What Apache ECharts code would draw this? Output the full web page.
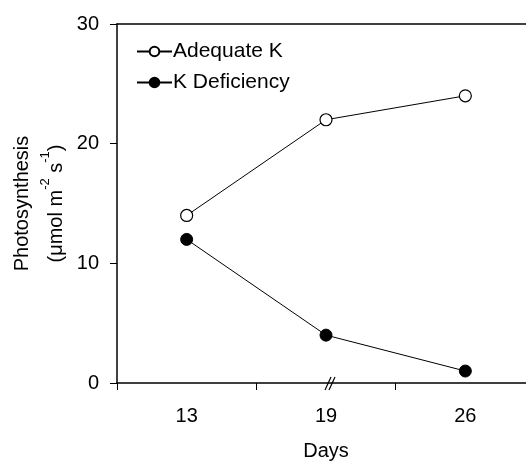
<!DOCTYPE html>
<html>
<head>
<meta charset="utf-8">
<script src="https://cdn.jsdelivr.net/npm/echarts@6/dist/echarts.min.js"></script>
<style>
html,body{margin:0;padding:0;background:#fff;}
#chart{width:526px;height:461px;}
</style>
</head>
<body>
<div id="chart"></div>
<script>
var days = ['13', '19', '26'];
var adequateK = [14, 22, 24];
var kDeficiency = [12, 4, 1];
var yTicks = [0, 10, 20, 30];
var breakAt = '19';
var yTitle = 'Photosynthesis\n(μmol m{sup|-2} s{sup|-1})';

var FONT = 'Liberation Sans, Arial, sans-serif';
var chart = echarts.init(document.getElementById('chart'), null, {renderer: 'canvas'});

var option = {
  animation: false,
  backgroundColor: '#fff',
  textStyle: {fontFamily: FONT, color: '#000'},
  grid: {left: 117, top: 24, right: -9, bottom: 78, containLabel: false, outerBoundsMode: 'none'},
  legend: {
    orient: 'vertical', left: 131, top: 36,
    itemWidth: 35, itemHeight: 12, itemGap: 10,
    textStyle: {fontFamily: FONT, fontSize: 21, color: '#000', padding: [0,0,0,-4]},
    data: ['Adequate K', 'K Deficiency']
  },
  xAxis: [{
    type: 'category', data: days, boundaryGap: true,
    name: 'Days', nameLocation: 'middle', nameGap: 58,
    nameTextStyle: {fontFamily: FONT, fontSize: 20, color: '#000'},
    axisLine: {show: true, lineStyle: {color: '#000', width: 1.5}},
    axisTick: {show: true, alignWithLabel: false, length: 7, inside: false, lineStyle: {color: '#000', width: 1}},
    axisLabel: {fontFamily: FONT, fontSize: 20, color: '#000', margin: 23},
    splitLine: {show: false}
  }, {
    type: 'category', data: days, position: 'top',
    axisLine: {show: true, lineStyle: {color: '#000', width: 1.5}},
    axisTick: {show: false}, axisLabel: {show: false}, splitLine: {show: false}
  }],
  yAxis: {
    type: 'value', min: 0, max: 30, interval: 10,
    axisLine: {show: true, lineStyle: {color: '#000', width: 1.5}},
    axisTick: {show: true, length: 7, lineStyle: {color: '#000', width: 1}},
    axisLabel: {fontFamily: FONT, fontSize: 20, color: '#000', margin: 18,
      formatter: function (v) { return yTicks.indexOf(v) >= 0 ? String(v) : ''; }},
    splitLine: {show: false}
  },
  series: [{
    name: 'Adequate K', type: 'line', data: adequateK,
    symbol: 'circle', symbolSize: 12,
    lineStyle: {color: '#000', width: 1},
    itemStyle: {color: '#fff', borderColor: '#000', borderWidth: 1.2}
  }, {
    name: 'K Deficiency', type: 'line', data: kDeficiency,
    symbol: 'circle', symbolSize: 12,
    lineStyle: {color: '#000', width: 1},
    itemStyle: {color: '#000', borderColor: '#000', borderWidth: 1}
  }]
};
chart.setOption(option);

// axis break mark "//" at the 19 category on the x axis, and the y-axis title
var p = chart.convertToPixel({xAxisIndex: 0, yAxisIndex: 0}, [breakAt, 0]);
var mid = chart.convertToPixel({xAxisIndex: 0, yAxisIndex: 0}, [days[0], 15]);
var bx = p[0] + 4, by = p[1];
chart.setOption({
  graphic: [
    {type: 'line', shape: {x1: bx - 5, y1: by + 7, x2: bx + 1, y2: by - 6}, style: {stroke: '#000', lineWidth: 1.2}},
    {type: 'line', shape: {x1: bx - 1, y1: by + 7, x2: bx + 5, y2: by - 6}, style: {stroke: '#000', lineWidth: 1.2}},
    {type: 'text', x: 39, y: mid[1], rotation: Math.PI / 2,
      style: {
        text: yTitle, fontFamily: FONT, fontSize: 20, fill: '#000', lineHeight: 34,
        align: 'center', verticalAlign: 'middle',
        rich: {sup: {fontFamily: FONT, fontSize: 13, fill: '#000', verticalAlign: 'top', lineHeight: 22}}
      }}
  ]
});
</script>
</body>
</html>
